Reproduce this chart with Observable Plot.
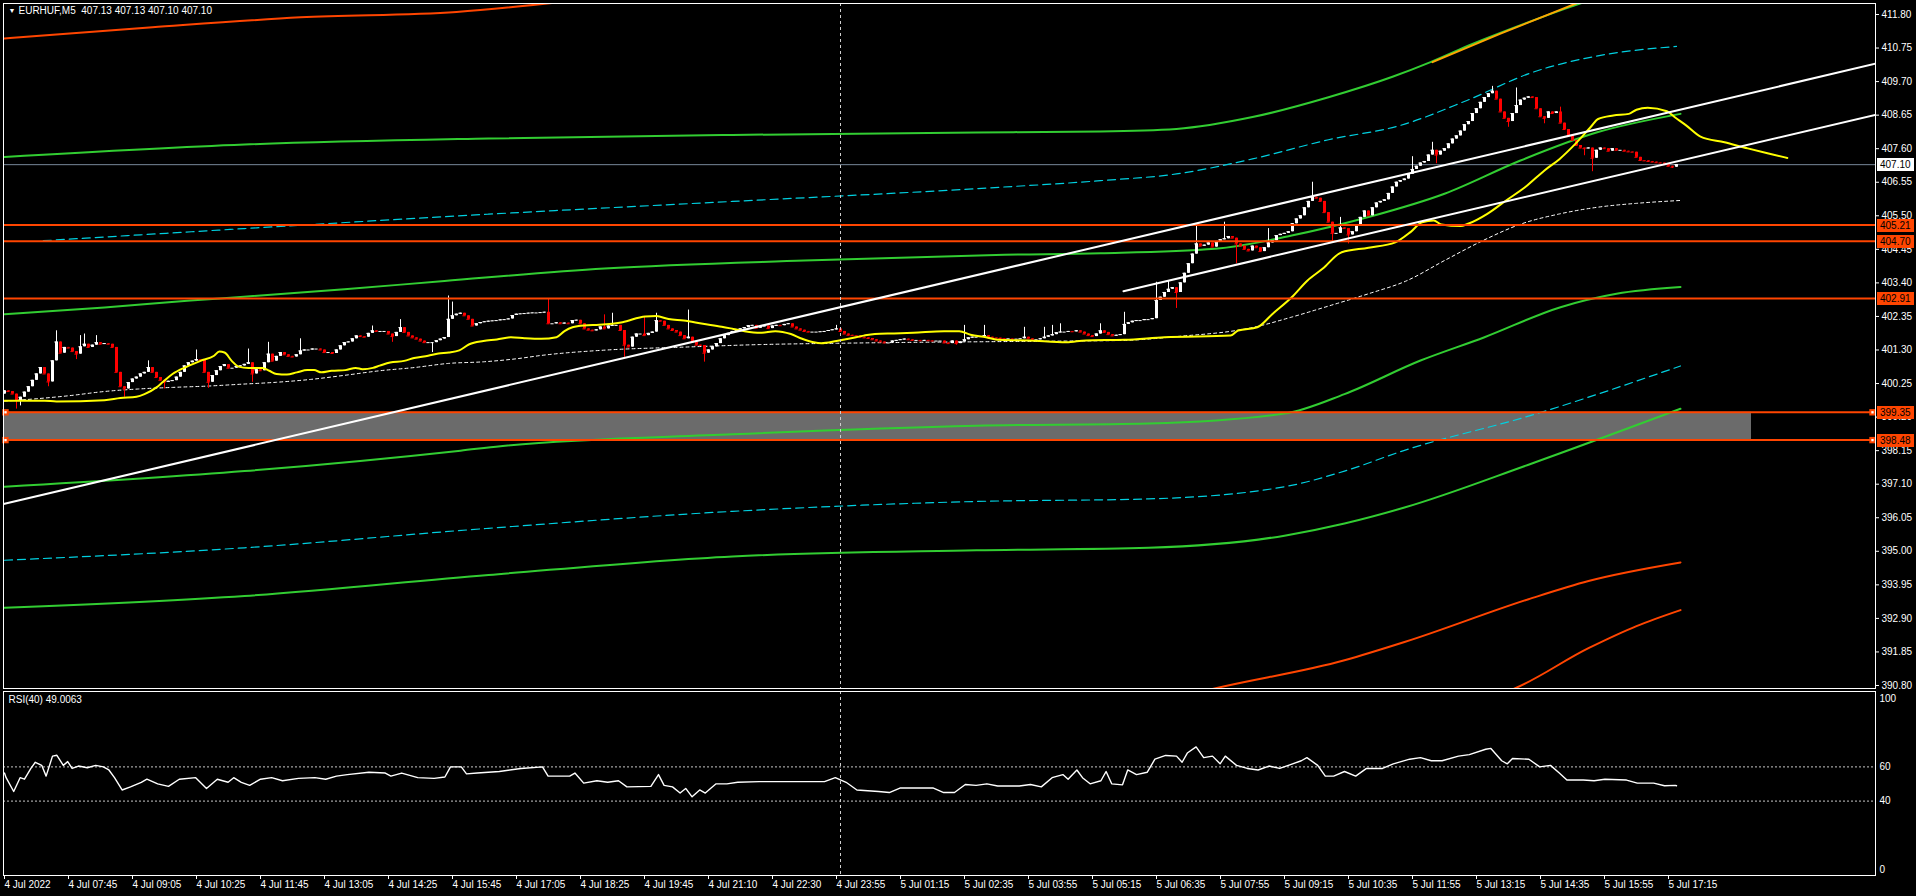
<!DOCTYPE html>
<html><head><meta charset="utf-8">
<script src="https://cdn.jsdelivr.net/npm/d3@7"></script>
<script src="https://cdn.jsdelivr.net/npm/@observablehq/plot@0.6"></script>
<style>
html,body{margin:0;padding:0;background:#000;overflow:hidden;}
#chart{width:1916px;height:896px;background:#000;}
#chart svg{display:block;max-width:none;}
</style></head><body><div id="chart"></div>
<script>
// ---------------- DATA ----------------
const title = "EURHUF,M5  407.13 407.13 407.10 407.10";
const rsiTitle = "RSI(40) 49.0063";
const firstOpen = 399.92;
const closes = [
400.02,400.00,399.92,399.72,399.82,399.98,400.15,400.35,400.55,400.75,
400.55,400.30,400.96,401.55,401.20,401.38,401.36,401.25,401.17,401.40,
401.48,401.38,401.45,401.53,401.48,401.50,401.48,401.38,400.60,400.15,
400.08,400.28,400.39,400.45,400.55,400.60,400.75,400.60,400.44,400.35,
400.29,400.32,400.34,400.45,400.60,400.80,400.90,400.95,401.00,400.98,
400.60,400.29,400.50,400.65,400.78,400.84,400.73,400.73,400.78,400.80,
400.85,400.90,400.55,400.68,400.65,400.90,401.17,400.95,401.10,401.22,
401.15,401.10,401.08,401.15,401.27,401.30,401.30,401.33,401.33,401.30,
401.22,401.22,401.19,401.30,401.43,401.53,401.55,401.65,401.74,401.72,
401.70,401.82,401.90,401.88,401.88,401.88,401.80,401.72,401.85,402.00,
401.85,401.74,401.68,401.64,401.58,401.53,401.53,401.53,401.59,401.64,
401.69,402.26,402.37,402.42,402.45,402.37,402.26,402.05,402.12,402.16,
402.18,402.20,402.21,402.22,402.24,402.25,402.27,402.38,402.42,402.43,
402.44,402.45,402.46,402.46,402.47,
402.48,402.12,402.12,402.15,402.12,402.14,402.12,402.22,402.23,402.12,
401.96,401.92,401.90,401.93,402.02,401.96,402.05,402.07,402.07,401.91,
401.45,401.39,401.70,401.80,401.80,401.75,401.82,401.86,402.22,402.20,
402.07,401.96,401.91,401.86,401.75,401.65,401.70,401.55,401.45,401.44,
401.20,401.30,401.40,401.50,401.65,401.75,401.82,401.88,401.92,401.96,
402.00,402.06,402.07,401.98,402.03,402.05,401.97,402.05,402.07,402.06,
402.10,402.12,402.02,401.96,401.92,401.88,401.86,401.86,401.86,401.87,
401.88,401.91,401.93,401.96,401.88,401.80,401.76,401.75,401.74,401.70,
401.68,401.66,401.62,401.58,401.55,401.52,401.52,401.58,401.60,401.62,
401.64,401.62,401.60,401.60,401.59,401.60,401.59,401.58,401.58,401.58,
401.52,401.50,401.58,401.50,401.55,401.62,401.68,401.70,401.70,401.72,
401.75,401.70,401.68,401.67,401.66,401.65,401.65,401.64,401.64,401.65,
401.70,401.65,401.62,401.62,401.65,401.70,401.74,401.78,401.84,401.86,
401.86,401.88,401.87,401.90,401.86,401.80,401.75,401.72,401.80,401.90,
401.85,401.78,401.74,401.76,401.78,402.10,402.15,
402.20,402.22,402.22,402.25,402.25,402.28,402.85,402.95,403.10,403.20,
403.25,403.10,403.40,403.70,404.00,404.30,404.62,404.55,404.58,404.65,
404.52,404.68,404.75,404.78,404.85,404.80,404.62,404.55,404.45,404.40,
404.55,404.50,404.38,404.50,404.65,404.72,404.88,404.92,404.95,405.00,
405.25,405.40,405.50,405.75,405.95,406.08,406.05,405.95,405.60,405.30,
404.95,404.95,405.12,405.10,404.90,405.00,405.20,405.45,405.65,405.50,
405.75,405.90,405.95,406.00,406.20,406.40,406.55,406.60,406.65,406.80,
406.95,407.05,407.15,407.20,407.40,407.55,407.40,407.52,407.60,407.75,
407.90,408.00,408.15,408.35,408.45,408.70,408.85,409.05,409.20,409.32,
409.40,409.15,408.75,408.55,408.45,408.70,408.95,409.12,409.18,409.22,
409.20,408.85,408.60,408.55,408.75,408.70,408.75,408.40,408.20,408.00,
407.86,407.70,407.62,407.60,407.62,407.30,407.55,407.62,407.60,407.52,
407.60,407.55,407.55,407.52,407.50,407.49,407.33,407.23,407.22,407.20,
407.18,407.16,407.15,407.10,407.05,407.02,407.10
];
const wickHighs = [[13,401.90],[19,401.75],[20,401.80],[23,401.75],[36,400.96],[48,401.30],[61,401.33],[66,401.54],[74,401.65],[92,402.05],[99,402.25],[111,402.99],[112,402.80],[136,402.90],[150,402.40],[152,402.45],[160,402.35],[163,402.45],[171,402.55],[208,402.07],[240,402.07],[245,402.07],[255,402.01],[260,402.01],[262,402.07],[264,402.12],[274,402.12],[280,402.48],[288,403.42],[291,403.45],[298,405.25],[305,405.30],[316,405.10],[327,406.55],[334,405.45],[352,407.35],[357,407.80],[372,409.55],[378,409.50],[389,408.90]];
const wickLows = [[3,399.45],[4,399.55],[11,400.15],[18,401.00],[30,399.82],[40,400.08],[51,400.10],[62,400.29],[97,401.54],[107,401.22],[155,401.07],[175,400.92],[238,401.45],[293,402.60],[308,404.00],[332,404.70],[336,404.62],[358,407.13],[376,408.27],[385,408.38],[395,407.38],[397,406.88],[417,406.98]];

const yellowMA = [[0,399.71],[10,399.71],[13,399.69],[25,399.73],[29,399.80],[33,399.84],[35,399.92],[38,400.13],[39.5,400.29],[42,400.55],[45.6,400.78],[49,400.96],[52.4,401.12],[53.7,401.25],[55,401.22],[56.8,400.96],[58.5,400.78],[61,400.74],[64.5,400.74],[66.2,400.65],[68,400.55],[70.6,400.53],[73.1,400.60],[75.7,400.67],[77.4,400.67],[79.2,400.60],[81.8,400.65],[85.2,400.67],[87.8,400.74],[89.5,400.70],[92.1,400.74],[93.8,400.81],[96.4,400.91],[99.9,400.96],[102.4,401.05],[105.9,401.12],[108.5,401.19],[111.1,401.22],[113.7,401.29],[116.2,401.48],[119.7,401.58],[123.1,401.63],[126.6,401.70],[130,401.67],[134.2,401.65],[138,401.70],[140,401.89],[142,402.01],[145,402.07],[148.7,402.09],[154.5,402.17],[160.2,402.35],[163,402.36],[166,402.27],[169.8,402.22],[174.6,402.12],[179.3,402.03],[182.2,401.96],[185,401.89],[189,401.84],[192.7,401.89],[196.6,401.80],[199.4,401.65],[202.3,401.54],[204.2,401.51],[208,401.58],[211,401.65],[214.8,401.75],[217.6,401.80],[222.4,401.82],[227.2,401.84],[234.9,401.89],[238.7,401.89],[241.5,401.78],[245.4,401.70],[248.2,401.62],[255.9,401.60],[265.5,401.54],[270.3,401.60],[280,401.62],[290,401.70],[306.5,401.75],[308.4,401.91],[313.2,402.01],[317,402.43],[321.8,402.95],[325.7,403.47],[329.5,403.84],[334.3,404.36],[341,404.50],[347.7,404.67],[351.5,404.99],[354.4,405.30],[357.3,405.35],[359.2,405.23],[364,405.18],[365.9,405.25],[370.7,405.56],[375.4,405.98],[380.2,406.40],[385,406.92],[388.8,407.28],[392.7,407.75],[396.5,408.27],[398.4,408.53],[402.2,408.64],[406.1,408.69],[408,408.82],[410.8,408.88],[415.6,408.77],[417.5,408.59],[420.4,408.33],[424,407.98],[430,407.80],[435.8,407.61],[441,407.45],[445.7,407.31]];
const dottedMA = [[0,399.70],[7.6,399.77],[16.2,399.87],[24.9,400.00],[33.5,400.08],[42.1,400.13],[50.7,400.17],[59.3,400.23],[68,400.29],[76.6,400.38],[85.2,400.51],[93.8,400.65],[102.4,400.75],[111,400.88],[119.7,400.93],[128.3,401.03],[134.2,401.13],[150.6,401.30],[169.8,401.39],[189,401.47],[208,401.51],[227.2,401.54],[246.3,401.56],[265.5,401.58],[279.7,401.60],[293,401.72],[312.3,402.01],[321.8,402.33],[331.4,402.69],[341,403.06],[350.6,403.47],[360,404.10],[369.7,404.73],[379.3,405.25],[388.8,405.56],[398.4,405.77],[408,405.89],[419,405.98]];
const bandG1 = [[0,407.34],[60,407.73],[121,407.92],[182,408.03],[243,408.11],[274,408.14],[293,408.22],[312,408.59],[331,409.21],[347,409.85],[356.5,410.31],[367,410.88],[381,411.56],[389,411.93],[400,412.40]];
const bandC1 = [[9.7,404.72],[60,405.10],[121,405.55],[182,405.95],[243,406.35],[274,406.60],[293,406.81],[312,407.28],[331,407.88],[349,408.33],[365.6,409.11],[382,409.99],[399,410.52],[418,410.80]];
const bandG2 = [[0,402.42],[25,402.63],[46.5,402.85],[59,402.96],[85,403.20],[110,403.46],[150,403.85],[200,404.10],[250,404.28],[274,404.33],[302.7,404.47],[321.8,404.88],[341,405.46],[360,406.19],[379,407.23],[398.4,408.12],[419,408.69]];
const bandG3 = [[0,397.02],[60,397.51],[114,398.15],[124,398.29],[182,398.66],[243,398.93],[286,399.00],[320,399.31],[335,399.92],[354,400.97],[370,401.70],[389,402.64],[403,403.06],[419,403.27]];
const bandC2 = [[0,394.72],[60,395.11],[121,395.72],[182,396.25],[243,396.56],[286,396.64],[320,397.02],[335,397.51],[350,398.16],[381,399.23],[419,400.80]];
const bandG4 = [[0,393.23],[60,393.60],[121,394.26],[182,394.84],[243,395.03],[286,395.11],[320,395.49],[335,395.87],[350,396.37],[381,397.71],[419,399.46]];
const orangeTopLeft = [[0,411.05],[37,411.40],[74,411.71],[113,411.88],[140,412.20]];
const orangeTopRight = [[357,410.31],[374,411.20],[393,412.15]];
const orangeLow1 = [[290,390.30],[300,390.63],[335,391.59],[350,392.16],[381,393.50],[396,394.07],[419,394.65]];
const orangeLow2 = [[370,390.40],[376,390.63],[396,391.97],[408,392.66],[419,393.16]];
const trend1 = [[-0.25,396.48],[467.75,410.26]];
const trend2 = [[279.75,403.14],[467.75,408.66]];
const levelLines = [405.21, 404.70, 402.91, 399.35, 398.48];
const zoneLevels = [398.48, 399.35];
const zoneEndBar = 436.75;
const currentPrice = 407.10;
const separatorBar = 209;
const priceTicks = [411.80,410.75,409.70,408.65,407.60,406.55,405.50,404.45,403.40,402.35,401.30,400.25,399.20,398.15,397.10,396.05,395.00,393.95,392.90,391.85,390.80];
const rsiPoints = [[0,56.4],[0.4,53.7],[2.3,45.6],[3.9,53.7],[5,52.8],[6.6,59.1],[7.7,62.7],[9.3,60.9],[10.4,54.6],[12,66.3],[13.1,66.8],[14.7,60.9],[15.8,63.1],[16.9,59.1],[18.5,60.5],[20.7,59.5],[22.8,60.9],[24.7,60.0],[26.1,58.2],[27.5,53.7],[29.4,46.5],[31.5,48.3],[34.2,51.0],[35.6,52.8],[38.3,50.1],[41,48.6],[43.7,52.8],[47.8,53.7],[50.5,47.4],[53.2,52.8],[55.9,51.0],[57.3,53.7],[59.2,51.0],[61.3,49.2],[64,52.8],[66.8,53.7],[69.5,51.9],[73.5,53.3],[77.6,53.7],[80.3,52.8],[83,54.6],[85.7,55.5],[91.1,56.9],[95.2,56.4],[96.6,54.6],[99.3,56.4],[103.3,53.7],[107.4,53.3],[110.1,54.1],[111.5,60.0],[114.2,60.0],[115.5,55.9],[118.2,56.4],[123.7,57.3],[129.1,59.1],[134.5,60.0],[135.9,54.6],[141.3,54.6],[142.6,56.4],[144.8,50.5],[148.1,51.9],[150.8,51.0],[153.5,51.9],[155.6,48.3],[161.6,48.6],[163.5,55.5],[164.9,49.2],[167,48.3],[168.9,44.7],[170.3,47.4],[171.9,42.5],[173.8,46.5],[175.2,44.7],[176.5,47.4],[177.9,50.1],[180.6,50.1],[183.3,51.0],[188.7,51.4],[205,51.4],[207.7,53.7],[210.4,51.0],[213.1,46.5],[218.5,45.6],[221.2,45.0],[224,47.7],[232.1,47.7],[234.8,45.0],[237.5,45.0],[240.2,49.7],[242.9,49.2],[245.6,50.1],[248.3,48.8],[253.7,48.8],[256.5,49.7],[259.2,48.3],[261.9,53.7],[264.6,55.5],[265.9,52.8],[268.1,58.2],[269.5,53.7],[271.4,50.1],[274.1,51.9],[275.4,57.3],[276.8,50.1],[279.5,49.5],[280.8,58.2],[283,55.5],[285.7,56.9],[287.6,64.5],[290.3,66.7],[293,66.3],[294.4,62.7],[295.7,68.1],[297.9,71.7],[299.8,65.4],[302,66.3],[303.9,61.8],[305.2,66.3],[308,60.9],[310.7,59.1],[313.4,58.2],[316.1,60.5],[318.8,59.1],[321.5,61.3],[324.2,63.6],[325.6,65.4],[328.3,60.9],[330.2,54.6],[332.3,54.6],[335,57.3],[337.8,54.6],[340.5,59.1],[344.5,59.1],[347.2,61.8],[351.3,64.5],[354,65.4],[356.7,63.6],[359.4,63.6],[363.5,66.3],[366.2,67.2],[370.3,70.3],[371.6,70.8],[374.3,63.6],[375.7,61.8],[377,64.9],[381.1,64.5],[383.8,60.0],[386.5,60.9],[388.7,56.4],[390.6,52.3],[394.7,52.3],[397.4,51.9],[400.1,52.8],[405.5,52.3],[408.2,50.5],[412.3,50.5],[415,49.0],[417.7,49.2],[418,49.0]];
const rsiLevels = [60, 40];
const rsiTicks = [100, 60, 40, 0];
const xTickBars = [0,16,32,48,64,80,96,112,128,144,160,176,192,208,224,240,256,272,288,304,320,336,352,368,384,400,416];
const xTickLabels = ["4 Jul 2022","4 Jul 07:45","4 Jul 09:05","4 Jul 10:25","4 Jul 11:45","4 Jul 13:05","4 Jul 14:25","4 Jul 15:45","4 Jul 17:05","4 Jul 18:25","4 Jul 19:45","4 Jul 21:10","4 Jul 22:30","4 Jul 23:55","5 Jul 01:15","5 Jul 02:35","5 Jul 03:55","5 Jul 05:15","5 Jul 06:35","5 Jul 07:55","5 Jul 09:15","5 Jul 10:35","5 Jul 11:55","5 Jul 13:15","5 Jul 14:35","5 Jul 15:55","5 Jul 17:15"];

// ---------------- BUILD ----------------
const hiMap = new Map(wickHighs), loMap = new Map(wickLows);
const candles = closes.map((c, i) => {
  const o = i === 0 ? firstOpen : closes[i - 1];
  return {bar: i, open: o, close: c,
    high: Math.max(o, c, hiMap.has(i) ? hiMap.get(i) : -Infinity),
    low: Math.min(o, c, loMap.has(i) ? loMap.get(i) : Infinity),
    up: c >= o};
});
const ups = candles.filter(d => d.up), downs = candles.filter(d => !d.up);
const labelByBar = new Map(xTickBars.map((b, i) => [b, xTickLabels[i]]));

const FONT = "'Liberation Sans', Arial, sans-serif";
const NARROW = "'Liberation Sans Narrow', 'Liberation Sans', Arial, sans-serif";
const xDomain = [-0.25, 467.75];
const RED = "#ff0000", ORED = "#ff4500", GREEN = "#32cd32", CYAN = "#00d0e0";
const P = {x: d => d[0], y: d => d[1], clip: true};

// price values whose axis label is hidden behind a price box (as on the reference)
const hiddenTicks = new Set();

const main = Plot.plot({
  width: 1916, height: 690, marginLeft: 3, marginRight: 41, marginTop: 3, marginBottom: 2,
  style: {background: "#000", color: "#fff", fontFamily: FONT, fontSize: "10px", overflow: "visible"},
  x: {domain: xDomain, axis: null},
  y: {domain: [390.706, 412.144], axis: null},
  marks: [
    Plot.rect([zoneLevels], {x1: xDomain[0], x2: zoneEndBar, y1: d => d[0], y2: d => d[1], fill: "#6b6b6b", clip: true}),
    Plot.ruleY([currentPrice], {stroke: "#778899", strokeWidth: 1}),
    Plot.line(orangeTopLeft, {...P, stroke: ORED, strokeWidth: 2, curve: "monotone-x"}),
    Plot.line(orangeLow1, {...P, stroke: ORED, strokeWidth: 2, curve: "monotone-x"}),
    Plot.line(orangeLow2, {...P, stroke: ORED, strokeWidth: 2, curve: "monotone-x"}),
    Plot.line(bandG1, {...P, stroke: GREEN, strokeWidth: 2, curve: "monotone-x"}),
    Plot.line(orangeTopRight, {...P, stroke: "#ffa500", strokeWidth: 2, curve: "monotone-x"}),
    Plot.line(bandG2, {...P, stroke: GREEN, strokeWidth: 2, curve: "monotone-x"}),
    Plot.line(bandG3, {...P, stroke: GREEN, strokeWidth: 2, curve: "monotone-x"}),
    Plot.line(bandG4, {...P, stroke: GREEN, strokeWidth: 2, curve: "monotone-x"}),
    Plot.line(bandC1, {...P, stroke: CYAN, strokeWidth: 1.2, strokeDasharray: "8,5", curve: "monotone-x"}),
    Plot.line(bandC2, {...P, stroke: CYAN, strokeWidth: 1.2, strokeDasharray: "8,5", curve: "monotone-x"}),
    Plot.line(dottedMA, {...P, stroke: "#fff", strokeWidth: 1, strokeDasharray: "3,3", curve: "monotone-x"}),
    // candles
    Plot.ruleX(ups, {x: "bar", y1: "low", y2: "high", stroke: "#fff", strokeWidth: 1, clip: true}),
    Plot.ruleX(downs, {x: "bar", y1: "low", y2: "high", stroke: RED, strokeWidth: 1, clip: true}),
    Plot.ruleX(ups, {x: "bar", y1: "open", y2: "close", stroke: "#fff", strokeWidth: 3, clip: true}),
    Plot.ruleX(downs, {x: "bar", y1: "open", y2: "close", stroke: RED, strokeWidth: 3, clip: true}),
    Plot.ruleY(ups, {y: "close", x1: d => d.bar - 0.4, x2: d => d.bar + 0.4, stroke: "#fff", clip: true}),
    Plot.ruleY(downs, {y: "close", x1: d => d.bar - 0.4, x2: d => d.bar + 0.4, stroke: RED, clip: true}),
    Plot.line(yellowMA, {...P, stroke: "#ffff00", strokeWidth: 2, curve: "monotone-x"}),
    // objects
    Plot.ruleY(levelLines, {stroke: ORED, strokeWidth: 2}),
    Plot.line(trend1, {...P, stroke: "#fff", strokeWidth: 2}),
    Plot.line(trend2, {...P, stroke: "#fff", strokeWidth: 2}),
    Plot.ruleX([separatorBar], {stroke: "#cfcfcf", strokeWidth: 1, strokeDasharray: "3,3"}),
    Plot.dot(zoneLevels, {y: d => d, frameAnchor: "left", dx: 2, symbol: "square", r: 3.6, fill: ORED}),
    Plot.dot(zoneLevels, {y: d => d, frameAnchor: "left", dx: 2, symbol: "square", r: 1.3, fill: "#fff"}),
    Plot.dot(zoneLevels, {y: d => d, frameAnchor: "right", dx: -3, symbol: "square", r: 3.6, fill: ORED}),
    Plot.dot(zoneLevels, {y: d => d, frameAnchor: "right", dx: -3, symbol: "square", r: 1.3, fill: "#fff"}),
    Plot.frame({stroke: "#fff", strokeWidth: 1}),
    Plot.axisY(priceTicks, {anchor: "right", tickSize: 3, tickPadding: 3, stroke: "#fff", fill: "#fff", tickFormat: d => d.toFixed(2), fontSize: 10}),
    Plot.text(["\u25BC"], {frameAnchor: "top-left", dx: 5, dy: 5, fill: "#fff", fontSize: 7, textAnchor: "start", lineAnchor: "top"}),
    Plot.text([title], {frameAnchor: "top-left", dx: 15, dy: 3, fill: "#fff", fontSize: 10, textAnchor: "start", lineAnchor: "top"})
  ]
});

// price boxes on the right axis
{
  const ys = main.scale("y");
  const svg = d3.select(main);
  const g = svg.append("g").attr("font-family", FONT).attr("font-size", 10).attr("text-anchor", "start");
  const boxes = levelLines.map(v => ({v, bg: ORED, fg: "#000"})).concat([{v: currentPrice, bg: "#fff", fg: "#000"}]);
  for (const b of boxes) {
    const y = Math.round(ys.apply(b.v));
    g.append("rect").attr("x", 1877).attr("y", y - 6).attr("width", 37).attr("height", 13).attr("fill", b.bg);
    g.append("text").attr("x", 1880).attr("y", y + 0.5).attr("dy", "0.35em").attr("text-anchor", "start").attr("fill", b.fg).text(b.v.toFixed(2));
  }
}

const rsi = Plot.plot({
  width: 1916, height: 206, marginLeft: 3, marginRight: 41, marginTop: 1, marginBottom: 21,
  style: {background: "#000", color: "#fff", fontFamily: FONT, fontSize: "10px", overflow: "visible"},
  x: {domain: xDomain, axis: null},
  y: {domain: [-3.51, 104.09], axis: null},
  marks: [
    Plot.ruleY(rsiLevels, {stroke: "#c8c8c8", strokeWidth: 1, strokeDasharray: "2,2"}),
    Plot.ruleX([separatorBar], {stroke: "#cfcfcf", strokeWidth: 1, strokeDasharray: "3,3"}),
    Plot.line(rsiPoints, {x: d => d[0], y: d => d[1], stroke: "#fff", strokeWidth: 1.4, clip: true}),
    Plot.frame({stroke: "#fff", strokeWidth: 1}),
    Plot.axisY(rsiTicks, {anchor: "right", tickSize: 0, tickPadding: 4, fill: "#fff", fontSize: 10}),
    Plot.axisX(xTickBars, {anchor: "bottom", tickSize: 4, tickPadding: 1, stroke: "#fff", fill: "#fff", textAnchor: "start", dx: 0, fontFamily: NARROW, fontSize: 10, tickFormat: d => labelByBar.get(d)}),
    Plot.text([rsiTitle], {frameAnchor: "top-left", dx: 5, dy: 4, fill: "#fff", fontSize: 10, textAnchor: "start", lineAnchor: "top"})
  ]
});

const root = document.getElementById("chart");
root.appendChild(main);
root.appendChild(rsi);
</script>
</body></html>
